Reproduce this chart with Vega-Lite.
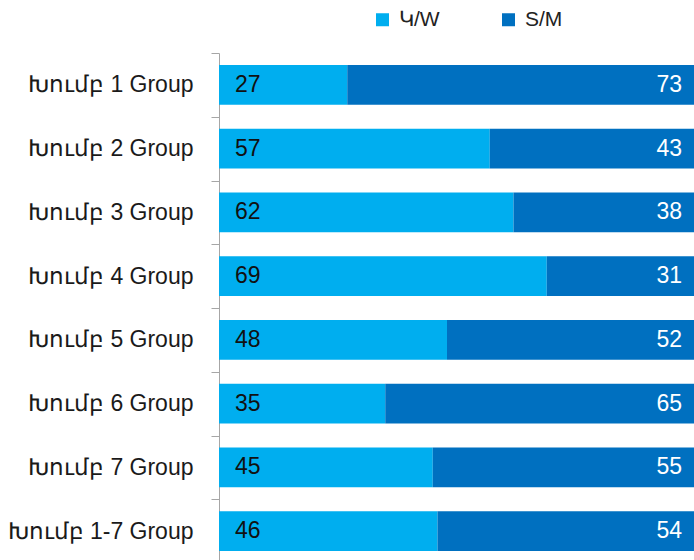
{
  "$schema": "https://vega.github.io/schema/vega-lite/v6.json",
  "autosize": "none",
  "width": 475,
  "height": 510,
  "padding": {"left": 219, "top": 53, "right": 0, "bottom": 0},
  "config": {"view": {"stroke": null}, "font": "Liberation Sans"},
  "data": {
    "values": [
      {"group": "Խումբ 1 Group", "sex": "Կ/W", "value": 27, "ord": 1},
      {"group": "Խումբ 1 Group", "sex": "S/M", "value": 73, "ord": 2},
      {"group": "Խումբ 2 Group", "sex": "Կ/W", "value": 57, "ord": 1},
      {"group": "Խումբ 2 Group", "sex": "S/M", "value": 43, "ord": 2},
      {"group": "Խումբ 3 Group", "sex": "Կ/W", "value": 62, "ord": 1},
      {"group": "Խումբ 3 Group", "sex": "S/M", "value": 38, "ord": 2},
      {"group": "Խումբ 4 Group", "sex": "Կ/W", "value": 69, "ord": 1},
      {"group": "Խումբ 4 Group", "sex": "S/M", "value": 31, "ord": 2},
      {"group": "Խումբ 5 Group", "sex": "Կ/W", "value": 48, "ord": 1},
      {"group": "Խումբ 5 Group", "sex": "S/M", "value": 52, "ord": 2},
      {"group": "Խումբ 6 Group", "sex": "Կ/W", "value": 35, "ord": 1},
      {"group": "Խումբ 6 Group", "sex": "S/M", "value": 65, "ord": 2},
      {"group": "Խումբ 7 Group", "sex": "Կ/W", "value": 45, "ord": 1},
      {"group": "Խումբ 7 Group", "sex": "S/M", "value": 55, "ord": 2},
      {"group": "Խումբ 1-7 Group", "sex": "Կ/W", "value": 46, "ord": 1},
      {"group": "Խումբ 1-7 Group", "sex": "S/M", "value": 54, "ord": 2}
    ]
  },
  "encoding": {
    "y": {
      "field": "group",
      "type": "nominal",
      "sort": null,
      "scale": {"paddingInner": 0, "paddingOuter": 0},
      "axis": {
        "title": null,
        "tickBand": "extent",
        "tickSize": 8,
        "tickColor": "#a6a6a6",
        "domainColor": "#a6a6a6",
        "labelFontSize": 23,
        "labelColor": "#1a1a1a",
        "labelPadding": 18,
        "labelLimit": 300
      }
    }
  },
  "layer": [
    {
      "mark": {"type": "bar", "height": {"band": 0.623}},
      "encoding": {
        "x": {
          "field": "value",
          "type": "quantitative",
          "stack": "zero",
          "scale": {"domain": [0, 100], "nice": false},
          "axis": null
        },
        "order": {"field": "ord", "type": "quantitative"},
        "color": {
          "field": "sex",
          "type": "nominal",
          "scale": {"domain": ["Կ/W", "S/M"], "range": ["#00AEEF", "#0070C0"]},
          "legend": {
            "title": null,
            "orient": "none",
            "legendX": 153,
            "legendY": -44,
            "direction": "horizontal",
            "symbolType": "square",
            "symbolSize": 169,
            "symbolStrokeWidth": 0,
            "symbolOpacity": 1,
            "labelFontSize": 21,
            "labelColor": "#222222",
            "labelOffset": 6,
            "columnPadding": 58
          }
        }
      }
    },
    {
      "transform": [{"filter": "datum.sex === 'Կ/W'"}],
      "mark": {"type": "text", "align": "left", "dx": 16, "fontSize": 23, "color": "#111111", "baseline": "middle"},
      "encoding": {
        "x": {"datum": 0, "type": "quantitative"},
        "text": {"field": "value", "type": "quantitative"}
      }
    },
    {
      "transform": [{"filter": "datum.sex === 'S/M'"}],
      "mark": {"type": "text", "align": "right", "dx": -12, "fontSize": 23, "color": "white", "baseline": "middle"},
      "encoding": {
        "x": {"datum": 100, "type": "quantitative"},
        "text": {"field": "value", "type": "quantitative"}
      }
    }
  ]
}
